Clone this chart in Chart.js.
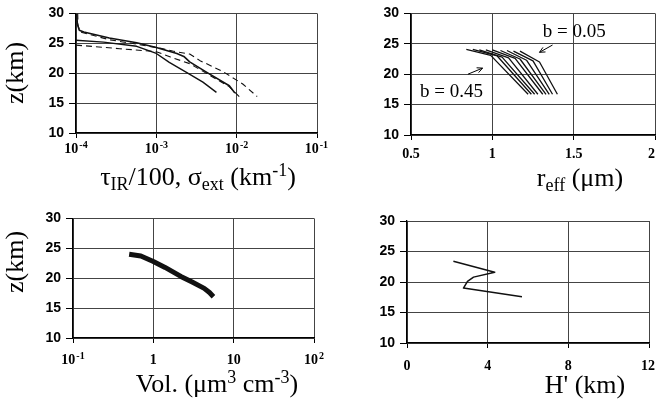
<!DOCTYPE html>
<html>
<head>
<meta charset="utf-8">
<script src="https://cdn.jsdelivr.net/npm/chart.js@4.4.1/dist/chart.umd.min.js"></script>
<style>
  html, body { margin: 0; padding: 0; background: #fff; }
  #wrap { position: relative; width: 657px; height: 411px; }
  canvas { position: absolute; }
</style>
</head>
<body>
<div id="wrap">
  <canvas id="c1" width="330" height="205" style="left:0;top:0;width:330px;height:205px"></canvas>
  <canvas id="c2" width="327" height="205" style="left:330px;top:0;width:327px;height:205px"></canvas>
  <canvas id="c3" width="330" height="206" style="left:0;top:205px;width:330px;height:206px"></canvas>
  <canvas id="c4" width="327" height="206" style="left:330px;top:205px;width:327px;height:206px"></canvas>
</div>
<script>
// --- data ---

// top left: tau_IR/100 and sigma_ext profiles (km^-1) against z (km)
const tauSolidA_x = [1.02e-4, 1.04e-4, 1.1e-4, 1.25e-4, 2.6e-4, 5.7e-4, 1.0e-3, 1.8e-3, 2.2e-3, 2.6e-3, 4.3e-3, 8.1e-3, 9.5e-3];
const tauSolidA_z = [30, 28.2, 27.2, 26.9, 25.9, 25.1, 24.3, 23.3, 22.8, 21.9, 20.1, 17.9, 16.7];
const tauSolidB_x = [1.0e-4, 2.2e-4, 5.7e-4, 1.0e-3, 1.45e-3, 2.4e-3, 3.8e-3, 5.6e-3];
const tauSolidB_z = [25.5, 25.2, 24.5, 23.3, 21.8, 20.1, 18.5, 16.8];
const tauDashA_x = [1.05e-4, 1.06e-4, 1.12e-4, 2.6e-4, 6.0e-4, 1.1e-3, 1.6e-3, 2.6e-3, 3.5e-3, 6.7e-3, 1.19e-2, 1.8e-2];
const tauDashA_z = [30, 28, 26.9, 25.6, 24.8, 24.2, 23.7, 23.2, 22.1, 20.3, 18.2, 16.1];
const tauDashB_x = [1.0e-4, 3.5e-4, 1.0e-3, 1.5e-3, 2.6e-3, 4.3e-3, 8.0e-3, 1.09e-2];
const tauDashB_z = [24.7, 24.1, 23.6, 22.7, 21.6, 19.9, 17.8, 16.0];
const tauTicks = [1e-4, 1e-3, 1e-2, 1e-1];
const tauTickBase = ['10', '10', '10', '10'];
const tauTickExp = ['-4', '-3', '-2', '-1'];

// top right: r_eff profiles for b = 0.05 ... 0.45 (top, knee, bottom of each line)
const bValues = ['0.05', '0.10', '0.15', '0.20', '0.25', '0.30', '0.35', '0.40', '0.45'];
const reffTop = [1.17, 1.13, 1.09, 1.05, 1.00, 0.96, 0.92, 0.88, 0.84];
const zTop = [23.8, 23.8, 23.9, 23.9, 24.0, 24.0, 24.0, 24.1, 24.1];
const reffBend = [1.29, 1.25, 1.21, 1.17, 1.14, 1.10, 1.06, 1.03, 0.99];
const zBend = [22.0, 22.2, 22.3, 22.5, 22.6, 22.7, 22.8, 23.0, 23.1];
const reffBottom = [1.40, 1.37, 1.35, 1.33, 1.31, 1.28, 1.26, 1.24, 1.22];
const zBottom = [16.7, 16.7, 16.7, 16.7, 16.7, 16.7, 16.7, 16.7, 16.7];
const reffTicks = [0.5, 1, 1.5, 2];
const reffTickLabels = ['0.5', '1', '1.5', '2'];

// bottom left: volume (um^3 cm^-3)
const volX = [0.5, 0.7, 1.0, 1.4, 2.2, 3.0, 4.3, 5.0, 5.6];
const volZ = [24.0, 23.7, 22.8, 21.8, 20.3, 19.4, 18.3, 17.6, 16.9];
const volTicks = [0.1, 1, 10, 100];
const volTickBase = ['10', '1', '10', '10'];
const volTickExp = ['-1', '', '', '2'];

// bottom right: H' (km)
const hX = [2.3, 4.35, 3.3, 3.0, 2.8, 5.7];
const hZ = [23.4, 21.6, 20.8, 20.1, 19.0, 17.6];
const hTicks = [0, 4, 8, 12];
const hTickLabels = ['0', '4', '8', '12'];

// --- helpers ---
const pts = (xs, zs) => xs.map((x, i) => ({ x: x, y: zs[i] }));
const SERIF = 'Liberation Serif';
const SANS = 'Liberation Sans';
const none = n => Array(n).fill('');

// titles, x tick labels and notes, keyed by canvas id
const extras = {
  c1: {
    xTitle: { parts: ['\u03C4', ['IR', 'sub'], '/100, \u03C3', ['ext', 'sub'], ' (km', ['-1', 'sup'], ')'], cx: 198, base: 185 },
    yTitle: { text: 'z(km)', cx: 16, cy: 73 },
    xLabels: { values: tauTicks, base: tauTickBase, exp: tauTickExp, dy: 20 }
  },
  c2: {
    xTitle: { parts: ['r', ['eff', 'sub'], ' (\u03BCm)'], cx: 250, base: 186 },
    xLabels: { values: reffTicks, base: reffTickLabels, exp: none(4), dy: 23 },
    notes: [
      { text: 'b = 0.05', x: 1.31, y: 26.1 },
      { text: 'b = 0.45', x: 0.555, y: 16.2 }
    ],
    arrows: [
      { from: [1.37, 24.8], to: [1.29, 23.6] },
      { from: [0.85, 20.0], to: [0.94, 21.0] }
    ]
  },
  c3: {
    xTitle: { parts: ['Vol. (\u03BCm', ['3', 'sup'], ' cm', ['-3', 'sup'], ')'], cx: 217, base: 187 },
    yTitle: { text: 'z(km)', cx: 16, cy: 57 },
    xLabels: { values: volTicks, base: volTickBase, exp: volTickExp, dy: 26 }
  },
  c4: {
    xTitle: { parts: ["H' (km)"], cx: 255, base: 188 },
    xLabels: { values: hTicks, base: hTickLabels, exp: none(4), dy: 27 }
  }
};

function drawRich(ctx, parts, cx, base, size) {
  const segs = parts.map(p => typeof p === 'string' ? { t: p, k: '' } : { t: p[0], k: p[1] });
  let total = 0;
  segs.forEach(s => {
    s.size = s.k ? Math.round(size * 0.68) : size;
    ctx.font = s.size + 'px "' + SERIF + '"';
    s.w = ctx.measureText(s.t).width;
    total += s.w;
  });
  let x = cx - total / 2;
  ctx.textAlign = 'left';
  ctx.textBaseline = 'alphabetic';
  segs.forEach(s => {
    ctx.font = s.size + 'px "' + SERIF + '"';
    const dy = s.k === 'sub' ? size * 0.2 : (s.k === 'sup' ? -size * 0.36 : 0);
    ctx.fillText(s.t, x, base + dy);
    x += s.w;
  });
}

const annotate = {
  id: 'annotate',
  afterDraw(chart) {
    const e = extras[chart.canvas.id];
    if (!e) return;
    const ctx = chart.ctx;
    const sx = chart.scales.x, sy = chart.scales.y;
    ctx.save();
    ctx.fillStyle = '#000';
    ctx.strokeStyle = '#000';
    if (e.xTitle) drawRich(ctx, e.xTitle.parts, e.xTitle.cx, e.xTitle.base, 26);
    if (e.yTitle) {
      ctx.save();
      ctx.translate(e.yTitle.cx, e.yTitle.cy);
      ctx.rotate(-Math.PI / 2);
      ctx.font = '26px "' + SERIF + '"';
      ctx.textAlign = 'center';
      ctx.textBaseline = 'middle';
      ctx.fillText(e.yTitle.text, 0, 0);
      ctx.restore();
    }
    if (e.xLabels) {
      // tick labels with optional raised exponent, centred on each tick
      const p = e.xLabels;
      const yb = chart.chartArea.bottom + p.dy;
      ctx.textAlign = 'left';
      ctx.textBaseline = 'alphabetic';
      p.values.forEach((v, i) => {
        ctx.font = 'bold 14px "' + SERIF + '"';
        const wb = ctx.measureText(p.base[i]).width;
        ctx.font = 'bold 10px "' + SERIF + '"';
        const we = p.exp[i] ? ctx.measureText(p.exp[i]).width + 1 : 0;
        // keep the last label inside the canvas
        const x0 = Math.min(sx.getPixelForValue(v) - (wb + we) / 2, chart.width - wb - we - 2);
        ctx.font = 'bold 14px "' + SERIF + '"';
        ctx.fillText(p.base[i], x0, yb);
        if (p.exp[i]) {
          ctx.font = 'bold 10px "' + SERIF + '"';
          ctx.fillText(p.exp[i], x0 + wb + 1, yb - 5);
        }
      });
    }
    (e.notes || []).forEach(n => {
      ctx.font = '19px "' + SERIF + '"';
      ctx.textAlign = 'left';
      ctx.textBaseline = 'alphabetic';
      ctx.fillText(n.text, sx.getPixelForValue(n.x), sy.getPixelForValue(n.y));
    });
    (e.arrows || []).forEach(a => {
      const x0 = sx.getPixelForValue(a.from[0]), y0 = sy.getPixelForValue(a.from[1]);
      const x1 = sx.getPixelForValue(a.to[0]), y1 = sy.getPixelForValue(a.to[1]);
      const ang = Math.atan2(y1 - y0, x1 - x0);
      ctx.lineWidth = 1;
      ctx.beginPath();
      ctx.moveTo(x0, y0);
      ctx.lineTo(x1, y1);
      ctx.moveTo(x1 - 6 * Math.cos(ang - 0.45), y1 - 6 * Math.sin(ang - 0.45));
      ctx.lineTo(x1, y1);
      ctx.lineTo(x1 - 6 * Math.cos(ang + 0.45), y1 - 6 * Math.sin(ang + 0.45));
      ctx.stroke();
    });
    ctx.restore();
  }
};

// x axis with a fixed set of ticks (labels are drawn by the plugin)
function xAxis(type, min, max, tickValues, height) {
  return {
    type: type, min: min, max: max,
    position: 'bottom',
    border: { color: '#000', width: 1.3 },
    grid: { color: '#444', lineWidth: 1, tickLength: 5, tickColor: '#000' },
    ticks: { padding: 0, maxRotation: 0, autoSkip: false, callback: () => '' },
    afterBuildTicks(s) { s.ticks = tickValues.map(v => ({ value: v })); },
    afterFit(s) { s.height = height; }
  };
}

function yAxis(width) {
  return {
    min: 10, max: 30,
    border: { color: '#000', width: 1.3 },
    grid: { color: '#444', lineWidth: 1, tickLength: 7, tickColor: '#000' },
    ticks: { stepSize: 5, color: '#000', padding: 5,
             font: { family: SANS, weight: 'bold', size: 14 } },
    afterFit(s) { s.width = width; }
  };
}

function line(data, width, dash) {
  return { data: data, showLine: true, borderColor: '#111', borderWidth: width,
           borderDash: dash || [], pointRadius: 0, tension: 0, fill: false,
           borderJoinStyle: 'round' };
}

function panel(id, datasets, x, y, pad) {
  return new Chart(document.getElementById(id), {
    type: 'scatter',
    data: { datasets: datasets },
    options: {
      responsive: false,
      animation: false,
      layout: { padding: pad },
      plugins: { legend: { display: false }, tooltip: { enabled: false } },
      scales: { x: x, y: y }
    },
    plugins: [annotate]
  });
}

// top left
panel('c1', [
  line(pts(tauSolidA_x, tauSolidA_z), 1.6),
  line(pts(tauSolidB_x, tauSolidB_z), 1.4),
  line(pts(tauDashA_x, tauDashA_z), 1.1, [6, 4]),
  line(pts(tauDashB_x, tauDashB_z), 1.1, [6, 4])
], xAxis('logarithmic', 1e-4, 1e-1, tauTicks, 72),
   yAxis(76), { left: 0, top: 12, right: 13, bottom: 0 });

// top right
panel('c2', bValues.map((b, i) => line([
  { x: reffTop[i], y: zTop[i] },
  { x: reffBend[i], y: zBend[i] },
  { x: reffBottom[i], y: zBottom[i] }
], 1.3)), xAxis('linear', 0.5, 2, reffTicks, 70),
   yAxis(81), { left: 0, top: 13, right: 2, bottom: 0 });

// bottom left
panel('c3', [
  line(pts(volX, volZ), 5)
], xAxis('logarithmic', 0.1, 100, volTicks, 73),
   yAxis(73), { left: 0, top: 13, right: 16, bottom: 0 });

// bottom right
panel('c4', [
  line(pts(hX, hZ), 1.5)
], xAxis('linear', 0, 12, hTicks, 68),
   yAxis(77), { left: 0, top: 16, right: 8, bottom: 0 });
</script>
</body>
</html>
